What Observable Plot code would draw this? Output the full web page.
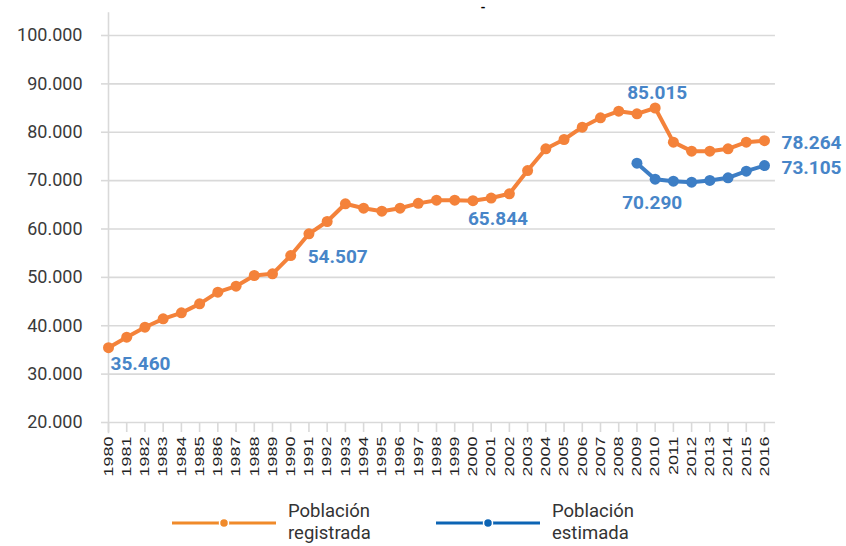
<!DOCTYPE html>
<html><head><meta charset="utf-8">
<script src="https://cdn.jsdelivr.net/npm/d3@7"></script>
<script src="https://cdn.jsdelivr.net/npm/@observablehq/plot@0.6"></script>
<style>
body{margin:0;background:#fff;}
#wrap{position:relative;width:846px;height:546px;overflow:hidden;font-family:Roboto,"DejaVu Sans",sans-serif;background:#fff;}
#title{position:absolute;left:0;top:0px;width:966px;text-align:center;font-size:13px;line-height:15px;font-weight:bold;color:#000;}
#chart{position:absolute;left:0;top:0;}
#legend{position:absolute;left:0;top:500px;width:846px;height:46px;}
.item{position:absolute;top:0;height:46px;}
.item svg{position:absolute;top:18px;}
.item .lab{position:absolute;top:0px;font-size:18.5px;line-height:22px;color:#333;white-space:nowrap;}
</style></head>
<body>
<div id="wrap">
  <div id="chart"></div>
  <div id="title">-</div>
  <div id="legend"></div>
</div>
<script>
// ---- data ----
const years = [1980,1981,1982,1983,1984,1985,1986,1987,1988,1989,1990,1991,1992,1993,1994,1995,1996,1997,1998,1999,2000,2001,2002,2003,2004,2005,2006,2007,2008,2009,2010,2011,2012,2013,2014,2015,2016];
const registrada = [35460,37630,39700,41430,42670,44530,46940,48180,50390,50730,54507,59000,61550,65210,64300,63680,64300,65300,65950,65950,65844,66400,67280,72090,76580,78500,81050,82980,84360,83810,85015,77950,76090,76090,76570,77950,78264];
const estimadaYears = [2009,2010,2011,2012,2013,2014,2015,2016];
const estimada = [73600,70290,69880,69680,70030,70580,71950,73105];
const yTicks = [20000,30000,40000,50000,60000,70000,80000,90000,100000];
const seriesNames = ["Población\nregistrada","Población\nestimada"];

const regData = years.map((y,i)=>({year:y,value:registrada[i]}));
const estData = estimadaYears.map((y,i)=>({year:y,value:estimada[i]}));

const loc = d3.formatLocale({decimal:",",thousands:".",grouping:[3],currency:["","€"]});
const fmt = loc.format(",");

const ORANGE = "#f4823a", BLUE = "#3d7ec5", LABEL = "#4785c8", GRID = "#d9d9d9";

function lab(data, year, opts){
  return Plot.text(data.filter(d=>d.year===year), {x:"year", y:"value", text:d=>fmt(d.value),
    fill:LABEL, fontSize:19, fontWeight:"bold", fontFamily:"Roboto, sans-serif", ...opts});
}

const chart = Plot.plot({
  width:846, height:490,
  marginTop:35, marginBottom:68, marginLeft:108, marginRight:82,
  style:{fontFamily:"Roboto, sans-serif", background:"transparent", overflow:"visible"},
  x:{type:"linear", domain:[1980,2016]},
  y:{domain:[20000,100000]},
  marks:[
    Plot.ruleY(yTicks, {x1:1980, x2:2016.6, stroke:GRID, strokeWidth:1.6}),
    Plot.ruleX([1980], {y1:17700, y2:104700, stroke:GRID, strokeWidth:1.6}),
    Plot.axisY({ticks:yTicks, tickSize:7, tickPadding:19, tickFormat:fmt, stroke:GRID, strokeWidth:1.6, fill:"#3a3a3a", fontSize:18, label:null}),
    Plot.axisX({ticks:years, tickSize:10, tickPadding:4, tickRotate:-90, tickFormat:d=>String(d), stroke:GRID, strokeWidth:1.6, fill:"#222", fontSize:13.5, fontFamily:"Liberation Sans, Arial, sans-serif", label:null}),
    Plot.line(regData, {x:"year", y:"value", stroke:ORANGE, strokeWidth:4, strokeLinejoin:"round"}),
    Plot.dot(regData, {x:"year", y:"value", r:5.5, fill:ORANGE, stroke:"none"}),
    Plot.line(estData, {x:"year", y:"value", stroke:BLUE, strokeWidth:4, strokeLinejoin:"round"}),
    Plot.dot(estData, {x:"year", y:"value", r:5.5, fill:BLUE, stroke:"none"}),
    lab(regData, 1980, {textAnchor:"start", dx:2, dy:16}),
    lab(regData, 1990, {textAnchor:"start", dx:17, dy:1}),
    lab(regData, 2000, {textAnchor:"middle", dx:25, dy:18}),
    lab(regData, 2010, {textAnchor:"middle", dx:2, dy:-15}),
    lab(regData, 2016, {textAnchor:"start", dx:17, dy:2}),
    lab(estData, 2016, {textAnchor:"start", dx:17, dy:2}),
    lab(estData, 2010, {textAnchor:"middle", dx:-3, dy:24})
  ]
});
document.getElementById("chart").appendChild(chart);

// stretch rotated year labels along their baseline
d3.select(chart).selectAll("text").each(function(){
  const t = this.getAttribute("transform");
  if (t && t.includes("rotate")) this.setAttribute("transform", t + " scale(1.33,1)");
});

// legend
const legend = document.getElementById("legend");
const items = [
  {left:172, color:"#f08a2a", name:seriesNames[0]},
  {left:436, color:"#0c64b4", name:seriesNames[1]}
];
items.forEach(it=>{
  const div = document.createElement("div");
  div.className = "item";
  div.style.left = it.left + "px";
  div.innerHTML = `<svg width="110" height="10"><line x1="0" x2="104" y1="5" y2="5" stroke="${it.color}" stroke-width="3"/><circle cx="52" cy="5" r="4.5" fill="${it.color}" stroke="#fff" stroke-width="1.5"/></svg>` +
    `<div class="lab" style="left:116px">${it.name.replace("\n","<br>")}</div>`;
  legend.appendChild(div);
});
</script>
</body></html>
